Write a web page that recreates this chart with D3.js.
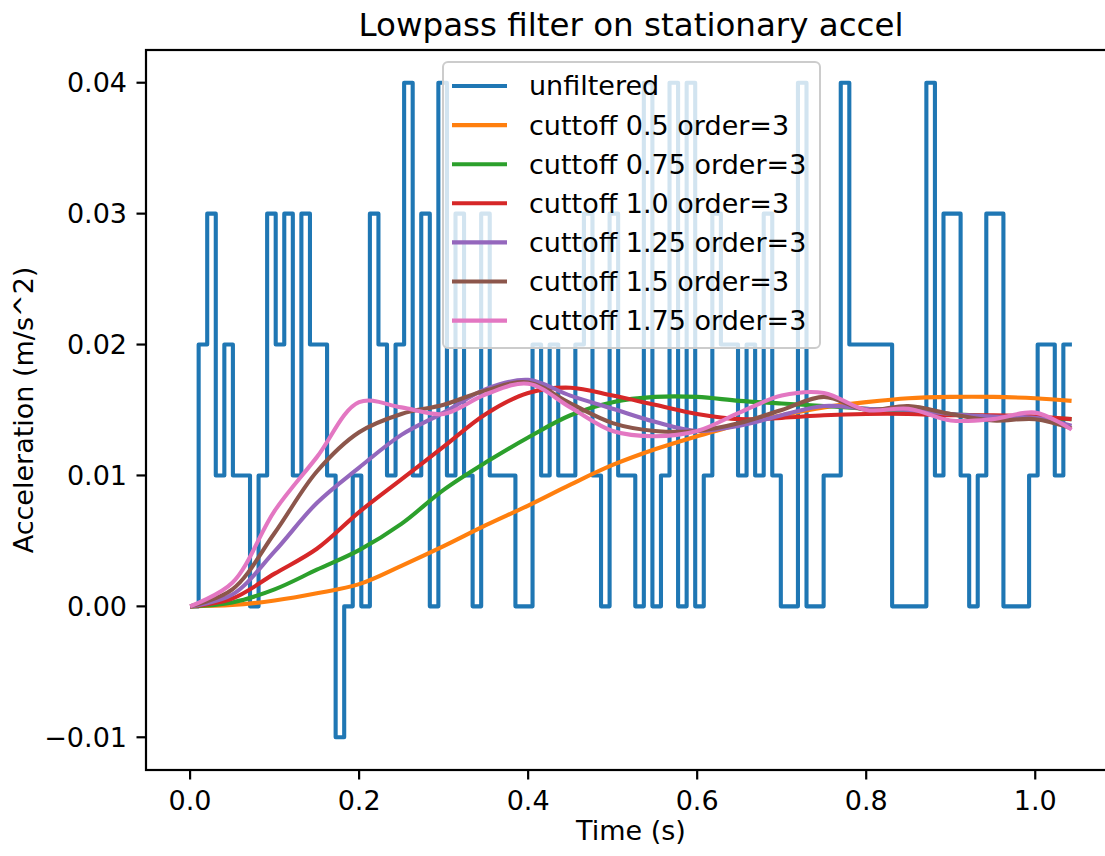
<!DOCTYPE html>
<html>
<head>
<meta charset="utf-8">
<script src="https://cdn.jsdelivr.net/npm/d3@7"></script>
<style>
  body { margin: 0; background: #fff; }
  svg { display: block; font-family: "DejaVu Sans", sans-serif; }
</style>
</head>
<body>
<div id="chart"></div>
<script>
// Raw accelerometer samples (m/s^2), one per sample period
const sampleDt = 0.01013;
const rawValues = [
  0, 0.02, 0.03, 0.01, 0.02, 0.01, 0.01, 0, 0.01, 0.03,
  0.02, 0.03, 0.01, 0.03, 0.02, 0.02, 0.01, -0.01, 0, 0.01,
  0, 0.03, 0.02, 0.01, 0.02, 0.04, 0.01, 0.03, 0, 0.04,
  0.01, 0.03, 0.01, 0, 0.03, 0.01, 0.01, 0.01, 0, 0,
  0.02, 0.01, 0.02, 0.01, 0.01, 0.02, 0.03, 0.01, 0, 0.03,
  0.01, 0.01, 0, 0.04, 0, 0.01, 0.04, 0, 0.04, 0,
  0.01, 0.03, 0.02, 0.02, 0.01, 0.02, 0.01, 0.03, 0.01, 0,
  0, 0.04, 0, 0, 0.01, 0.01, 0.04, 0.02, 0.02, 0.02,
  0.02, 0.02, 0, 0, 0, 0, 0.04, 0.01, 0.03, 0.03,
  0.01, 0, 0.01, 0.03, 0.03, 0, 0, 0, 0.01, 0.02,
  0.02, 0.01, 0.02
];

// Filtered series, read at these times (s)
const smoothTimes = [0, 0.05, 0.1, 0.15, 0.2, 0.25, 0.3, 0.35, 0.4, 0.45, 0.5,
  0.55, 0.6, 0.65, 0.7, 0.75, 0.8, 0.85, 0.9, 0.95, 1.0, 1.043];

const cut050 = [0, 0.0001, 0.00045, 0.001, 0.0017, 0.0031, 0.0046, 0.0062, 0.0077, 0.0093, 0.0108,
  0.0120, 0.0130, 0.0139, 0.0146, 0.0152, 0.0156, 0.0159, 0.0160, 0.0160, 0.0159, 0.0157];
const cut075 = [0, 0.0003, 0.0013, 0.0028, 0.0043, 0.0063, 0.0089, 0.0110, 0.0129, 0.0146, 0.0156,
  0.0160, 0.0160, 0.0157, 0.0155, 0.0153, 0.0151, 0.0149, 0.0147, 0.0145, 0.0144, 0.0143];
const cut100 = [0, 0.0006, 0.0025, 0.0044, 0.0072, 0.0097, 0.0122, 0.0147, 0.0163, 0.0167, 0.0161,
  0.0154, 0.0147, 0.0143, 0.0144, 0.0146, 0.0147, 0.0147, 0.0146, 0.0146, 0.0145, 0.0143];
const cut125 = [0, 0.0009, 0.0042, 0.0079, 0.0106, 0.0131, 0.0148, 0.0166, 0.0173, 0.0161, 0.0151,
  0.0141, 0.0134, 0.0138, 0.0146, 0.0153, 0.0151, 0.0150, 0.0147, 0.0145, 0.0144, 0.0138];
const cut150 = [0, 0.0013, 0.0056, 0.0103, 0.0133, 0.0147, 0.0154, 0.0165, 0.0171, 0.0155, 0.0140,
  0.0134, 0.0134, 0.0140, 0.0150, 0.0160, 0.0150, 0.0153, 0.0147, 0.0142, 0.0143, 0.0136];
const cut175 = [0, 0.0018, 0.0073, 0.0114, 0.0156, 0.0152, 0.0147, 0.0162, 0.0170, 0.0152, 0.0134,
  0.0130, 0.0134, 0.0148, 0.0161, 0.0163, 0.0150, 0.0151, 0.0142, 0.0143, 0.0148, 0.0135];

const seriesLabels = ['unfiltered', 'cuttoff 0.5 order=3', 'cuttoff 0.75 order=3', 'cuttoff 1.0 order=3',
  'cuttoff 1.25 order=3', 'cuttoff 1.5 order=3', 'cuttoff 1.75 order=3'];
const seriesColors = ['#1f77b4', '#ff7f0e', '#2ca02c', '#d62728', '#9467bd', '#8c564b', '#e377c2'];
const xTicks = [0.0, 0.2, 0.4, 0.6, 0.8, 1.0];
const yTicks = [-0.01, 0.0, 0.01, 0.02, 0.03, 0.04];

const width = 1105, height = 856;
const fs = 27;          // tick / label / legend font px
const lw = 4.1;         // line width

const svg = d3.select('#chart').append('svg')
  .attr('width', width).attr('height', height);
svg.append('rect').attr('width', width).attr('height', height).attr('fill', '#fff');

// axes box (right edge falls outside the picture like the reference)
const plot = { left: 146, right: 1116, top: 50, bottom: 770 };
const tMax = rawValues.length * sampleDt;
const xm = 0.05 * tMax;
const x = d3.scaleLinear().domain([-xm, tMax + xm]).range([plot.left, plot.right]);
const y = d3.scaleLinear().domain([-0.0125, 0.0425]).range([plot.bottom, plot.top]);

// raw step line
const rawPts = rawValues.map((v, i) => [i * sampleDt, v]);
rawPts.push([rawValues.length * sampleDt, rawValues[rawValues.length - 1]]);

const stepLine = d3.line().x(d => x(d[0])).y(d => y(d[1])).curve(d3.curveStepAfter);
const smoothLine = d3.line().x(d => x(d[0])).y(d => y(d[1])).curve(d3.curveCatmullRom.alpha(0.5));

const g = svg.append('g');
g.append('path').datum(rawPts)
  .attr('d', stepLine)
  .attr('fill', 'none').attr('stroke', seriesColors[0])
  .attr('stroke-width', lw).attr('stroke-linejoin', 'round');

[cut050, cut075, cut100, cut125, cut150, cut175].forEach((vals, i) => {
  g.append('path').datum(vals.map((v, j) => [smoothTimes[j], v]))
    .attr('d', smoothLine)
    .attr('fill', 'none').attr('stroke', seriesColors[i + 1])
    .attr('stroke-width', lw).attr('stroke-linejoin', 'round');
});

// spines
const spine = svg.append('g').attr('stroke', '#000').attr('stroke-width', 2.2).attr('fill', 'none');
spine.append('rect')
  .attr('x', plot.left).attr('y', plot.top)
  .attr('width', plot.right - plot.left).attr('height', plot.bottom - plot.top);

// x ticks
const xa = svg.append('g');
xTicks.forEach(t => {
  xa.append('line').attr('x1', x(t)).attr('x2', x(t))
    .attr('y1', plot.bottom).attr('y2', plot.bottom + 9.5)
    .attr('stroke', '#000').attr('stroke-width', 2.2);
  xa.append('text').attr('x', x(t)).attr('y', plot.bottom + 40)
    .attr('text-anchor', 'middle').attr('font-size', fs).attr('fill', '#000')
    .text(d3.format('.1f')(t));
});

// y ticks
const ya = svg.append('g');
yTicks.forEach(v => {
  ya.append('line').attr('x1', plot.left - 9.5).attr('x2', plot.left)
    .attr('y1', y(v)).attr('y2', y(v))
    .attr('stroke', '#000').attr('stroke-width', 2.2);
  ya.append('text').attr('x', plot.left - 19).attr('y', y(v)).attr('dy', '0.35em')
    .attr('text-anchor', 'end').attr('font-size', fs).attr('fill', '#000')
    .text(d3.format('.2f')(v).replace('-', '\u2212'));
});

// titles
const midX = (plot.left + plot.right) / 2;
svg.append('text').attr('x', midX).attr('y', 36)
  .attr('text-anchor', 'middle').attr('font-size', 32.5)
  .text('Lowpass filter on stationary accel');
svg.append('text').attr('x', midX).attr('y', 840)
  .attr('text-anchor', 'middle').attr('font-size', fs)
  .text('Time (s)');
svg.append('text')
  .attr('transform', `translate(33, ${(plot.top + plot.bottom) / 2}) rotate(-90)`)
  .attr('text-anchor', 'middle').attr('font-size', fs)
  .text('Acceleration (m/s^2)');

// legend
const leg = svg.append('g');
leg.append('rect')
  .attr('x', 443).attr('y', 62).attr('width', 377).attr('height', 286)
  .attr('rx', 5).attr('fill', '#fff').attr('fill-opacity', 0.8)
  .attr('stroke', '#cccccc').attr('stroke-width', 2);
seriesLabels.forEach((lab, i) => {
  const cy = 86 + i * 39.1;
  leg.append('line').attr('x1', 452).attr('x2', 507)
    .attr('y1', cy).attr('y2', cy)
    .attr('stroke', seriesColors[i]).attr('stroke-width', lw);
  leg.append('text').attr('x', 529).attr('y', cy).attr('dy', '0.35em')
    .attr('font-size', fs).attr('fill', '#000').text(lab);
});
</script>
</body>
</html>
